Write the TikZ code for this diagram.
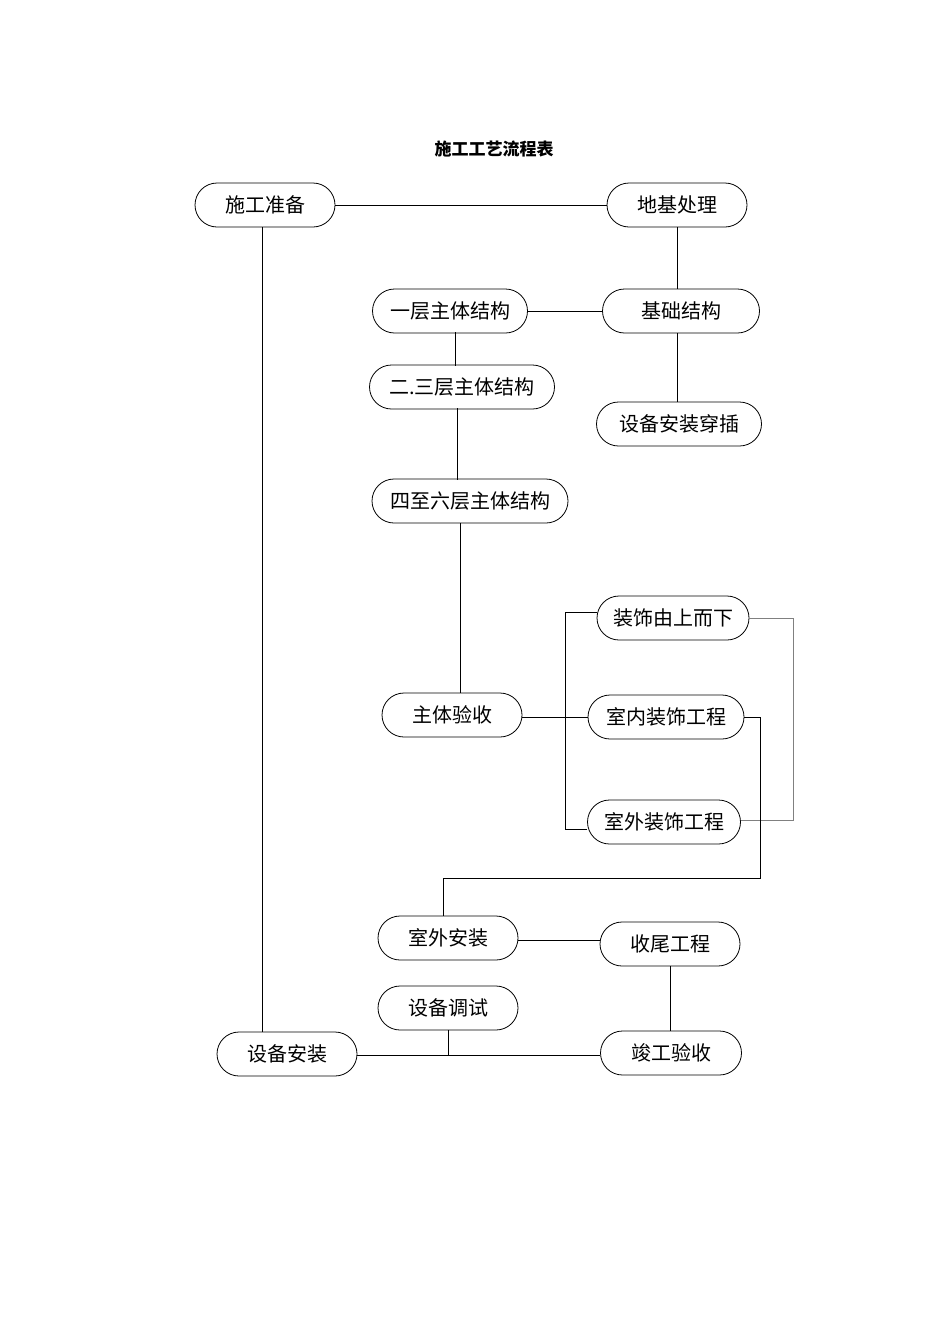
\documentclass[tikz,border=0pt]{standalone}
\usepackage{fontspec}
\setmainfont{Noto Sans CJK SC}
\usetikzlibrary{shapes.misc}
\tikzstyle{step box}=[draw, rounded rectangle, inner sep=0, minimum height=44pt, font=\fontsize{20}{24}\selectfont]
\tikzstyle{flowchart}=[x=1pt, y=-1pt, line width=0.8pt]
\begin{document}
\begin{tikzpicture}[flowchart]
    \useasboundingbox (0,0) rectangle (950,1344);
    \node[font=\bfseries\fontsize{17}{20}\selectfont] (T) at (494,149) {施工工艺流程表};
    \node[step box, minimum width=140pt] (A1) at (265,205) {施工准备};
    \node[step box, minimum width=140pt] (A2) at (677,205) {地基处理};
    \node[step box, minimum width=155pt] (B1) at (450,311) {一层主体结构};
    \node[step box, minimum width=157pt] (B2) at (681,311) {基础结构};
    \node[step box, minimum width=185pt] (B3) at (462,387) {二.三层主体结构};
    \node[step box, minimum width=165pt] (B4) at (679,424) {设备安装穿插};
    \node[step box, minimum width=196pt] (B5) at (470,501) {四至六层主体结构};
    \node[step box, minimum width=152pt] (C1) at (673,618) {装饰由上而下};
    \node[step box, minimum width=140pt] (C2) at (452,715) {主体验收};
    \node[step box, minimum width=156pt] (C3) at (666,717) {室内装饰工程};
    \node[step box, minimum width=153pt] (C4) at (664,822) {室外装饰工程};
    \node[step box, minimum width=140pt] (D1) at (448,938) {室外安装};
    \node[step box, minimum width=140pt] (D2) at (670,944) {收尾工程};
    \node[step box, minimum width=140pt] (D3) at (448,1008) {设备调试};
    \node[step box, minimum width=140pt] (D4) at (287,1054) {设备安装};
    \node[step box, minimum width=141pt] (D5) at (671,1053) {竣工验收};
    \coordinate (J1) at (448,1055);
    \draw (A1.east) -- (A2.west);
    \draw (A2.south) -- (A2.south |- B2.north);
    \draw (B1.east) -- (B2.west);
    \draw (B2.south -| A2.south) -- (A2.south |- B4.north);
    \draw (455,332) -- (455,366);
    \draw (457,408) -- (457,480);
    \draw (460,523) -- (460,693);
    \draw (C2.east |- C3.west) -- (C3.west);
    \draw (C1.west |- 0,612) -- (565,612) -- (565,829) -- (C4.west |- 0,829);
    \draw[gray] (C1.east) -- (793,618) -- (793,820) -- (C4.east |- 0,820);
    \draw (C3.east) -- (760,717) -- (760,878) -- (443,878) -- (D1.north -| 443,0);
    \draw (D1.east |- 0,940) -- (D2.west |- 0,940);
    \draw (D2.south) -- (D2.south |- D5.north);
    \draw (A1.south -| 262,0) -- (D4.north -| 262,0);
    \draw (D4.east |- J1) -- (D5.west |- J1);
    \draw (D3.south) -- (J1);
\end{tikzpicture}
\end{document}
